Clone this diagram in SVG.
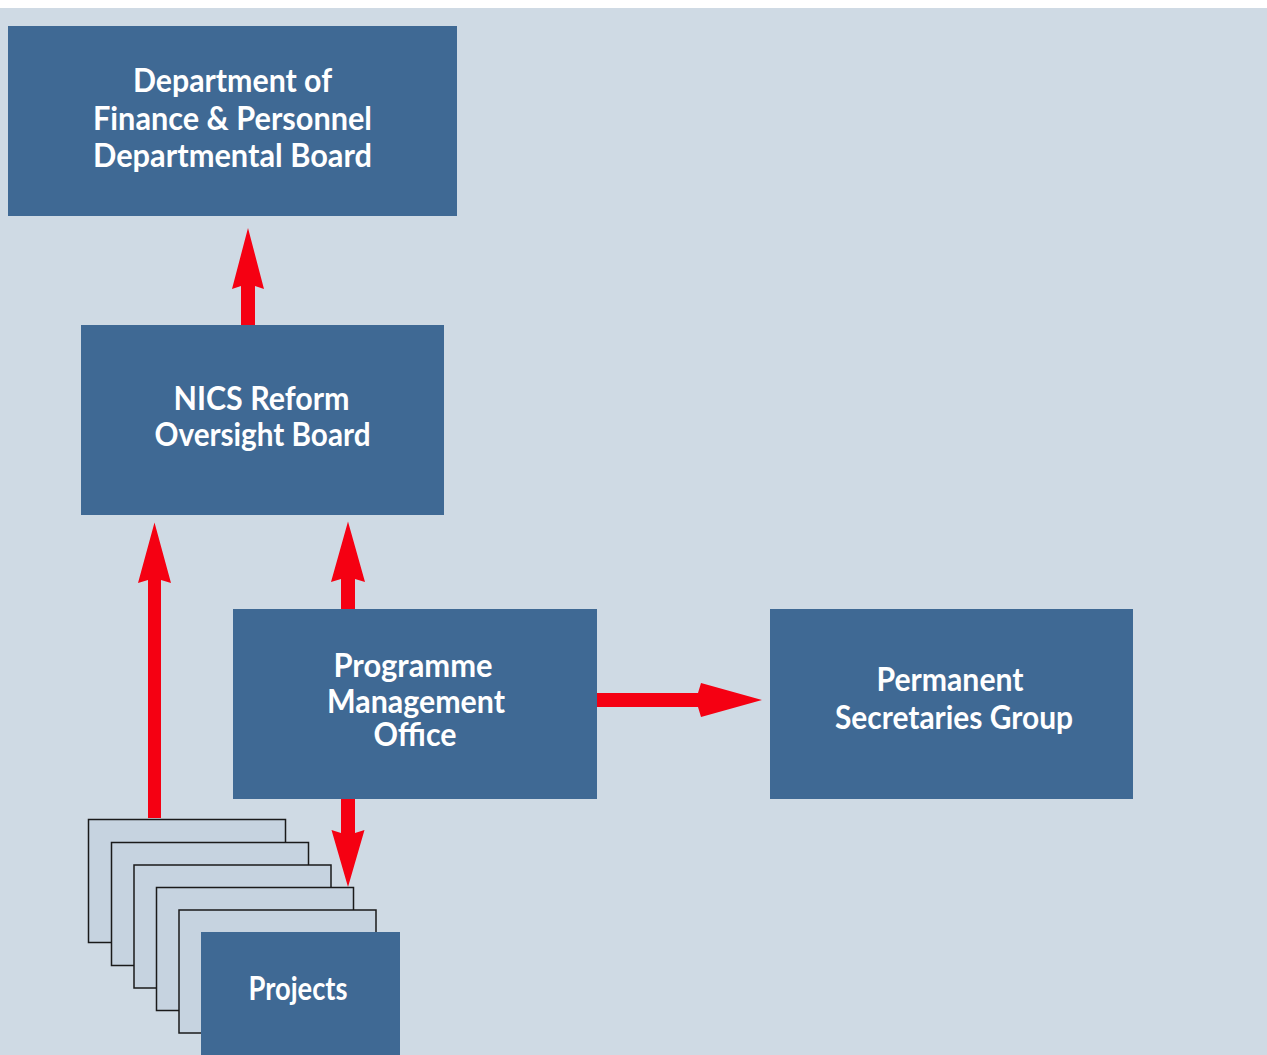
<svg xmlns="http://www.w3.org/2000/svg" width="1267" height="1055" viewBox="0 0 1267 1055">
  <style>
    .bg { fill: #cfdae4; }
    .box { fill: #3f6994; }
    .sheet { fill: #c6d3e0; stroke: #1a1a1a; stroke-width: 1.5; }
    .arrow { fill: #f50012; }
    .label { font-family: "Lato", "Liberation Sans", sans-serif; font-weight: bold; font-size: 32px; fill: #ffffff; text-anchor: middle; }
  </style>

  <rect x="0" y="0" width="1267" height="1055" fill="#ffffff"/>
  <rect class="bg" x="0" y="8" width="1267" height="1047"/>

  <!-- connectors -->
  <g id="connectors">
    <polygon class="arrow" points="241,325 241,286 232,289 248,228 264,289 255,286 255,325"/>
    <polygon class="arrow" points="148,818 148,580 138,583 154.5,522.5 171,583 161,580 161,818"/>
    <polygon class="arrow" points="341,609 341,579 331,582 348,521.5 365,582 355,579 355,609"/>
    <polygon class="arrow" points="597,693 698,693 701,683 762,700 701,717 698,707 597,707"/>
    <polygon class="arrow" points="341,799 341,833 331.5,830 348,887 364.5,830 355,833 355,799"/>
  </g>

  <g id="dfp-board">
    <rect class="box" x="8" y="26" width="449" height="190"/>
    <text class="label"><tspan x="232.5" y="92" textLength="199" lengthAdjust="spacingAndGlyphs">Department of</tspan><tspan x="232.5" y="130" textLength="279" lengthAdjust="spacingAndGlyphs">Finance &amp; Personnel</tspan><tspan x="232.5" y="167" textLength="279" lengthAdjust="spacingAndGlyphs">Departmental Board</tspan></text>
  </g>

  <g id="nics-oversight-board">
    <rect class="box" x="81" y="325" width="363" height="190"/>
    <text class="label"><tspan x="261.5" y="410" textLength="176" lengthAdjust="spacingAndGlyphs">NICS Reform</tspan><tspan x="262.5" y="446" textLength="216" lengthAdjust="spacingAndGlyphs">Oversight Board</tspan></text>
  </g>

  <g id="programme-management-office">
    <rect class="box" x="233" y="609" width="364" height="190"/>
    <text class="label"><tspan x="413" y="676.5" textLength="159" lengthAdjust="spacingAndGlyphs">Programme</tspan><tspan x="416" y="713" textLength="178" lengthAdjust="spacingAndGlyphs">Management</tspan><tspan x="415" y="745.5" textLength="83" lengthAdjust="spacingAndGlyphs">Office</tspan></text>
  </g>

  <g id="permanent-secretaries-group">
    <rect class="box" x="770" y="609" width="363" height="190"/>
    <text class="label"><tspan x="950" y="691" textLength="147" lengthAdjust="spacingAndGlyphs">Permanent</tspan><tspan x="954" y="729" textLength="238" lengthAdjust="spacingAndGlyphs">Secretaries Group</tspan></text>
  </g>

  <g id="projects">
    <rect class="sheet" x="88.5" y="819.5" width="197" height="123"/>
    <rect class="sheet" x="111.5" y="842.5" width="197" height="123"/>
    <rect class="sheet" x="134" y="865" width="197" height="123"/>
    <rect class="sheet" x="156.5" y="887.5" width="197" height="123"/>
    <rect class="sheet" x="179" y="910" width="197" height="123"/>
    <rect class="box" x="201" y="932" width="199" height="123"/>
    <text class="label"><tspan x="298" y="999.5" textLength="99" lengthAdjust="spacingAndGlyphs">Projects</tspan></text>
  </g>
</svg>
